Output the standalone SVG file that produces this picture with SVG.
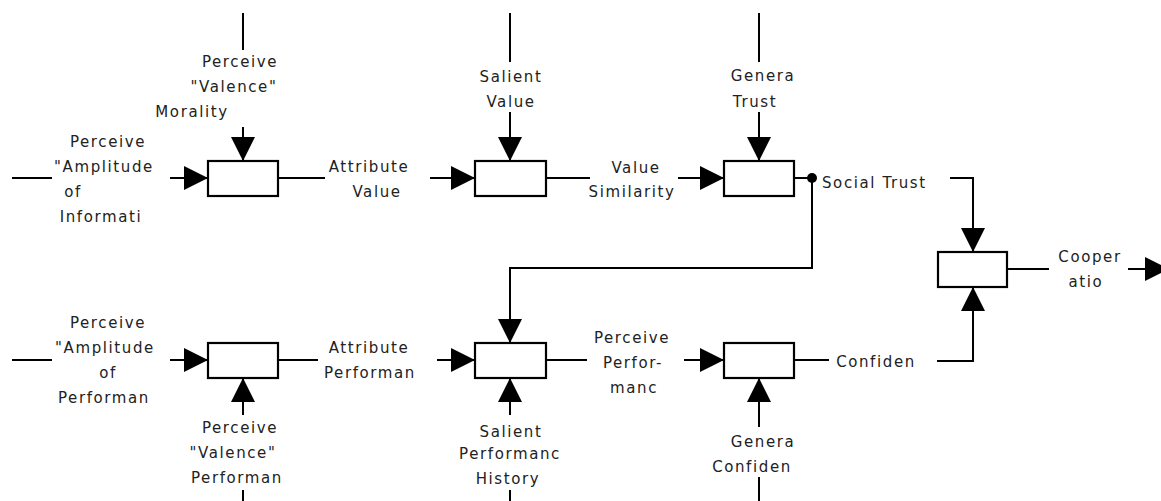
<svg xmlns="http://www.w3.org/2000/svg" width="1161" height="501" viewBox="0 0 1161 501">
<style>
.ln{fill:none;stroke:#000;stroke-width:2}
.ar{marker-end:url(#ah)}
.box{fill:#fff;stroke:#000;stroke-width:2.2}
text{font-family:"DejaVu Sans","Liberation Sans",sans-serif;font-size:15px;fill:#222;text-anchor:middle;letter-spacing:1.6px}
.st{text-anchor:start}
</style>
<defs>
<marker id="ah" markerUnits="userSpaceOnUse" markerWidth="24" markerHeight="24" refX="24" refY="12" orient="auto" viewBox="0 0 24 24">
<path d="M0,0 L24,12 L0,24 Z" fill="#000"/>
</marker>
</defs>
<rect width="1161" height="501" fill="#fff"/>
<g id="connectors">
<path class="ln" d="M12,178 H52"/><path class="ln ar" d="M170,178 H208"/>
<path class="ln" d="M243,13 V50"/><path class="ln ar" d="M243,127 V161"/>
<path class="ln" d="M278,178 H325"/><path class="ln ar" d="M430,178 H475"/>
<path class="ln" d="M510,13 V62"/><path class="ln ar" d="M510,112 V161"/>
<path class="ln" d="M546,178 H590"/><path class="ln ar" d="M678,178 H724"/>
<path class="ln" d="M759,13 V62"/><path class="ln ar" d="M759,112 V161"/>
<path class="ln" d="M794,178 H812"/>
<circle cx="812" cy="178" r="5" fill="#000"/>
<path class="ln ar" d="M812,178 V268 H510 V343"/>
<path class="ln ar" d="M950,178 H973 V252"/>
<path class="ln ar" d="M937,361 H973 V287"/>
<path class="ln" d="M1007,269 H1049"/><path class="ln ar" d="M1128,269 H1169"/>
<path class="ln" d="M12,360 H52"/><path class="ln ar" d="M170,360 H208"/>
<path class="ln" d="M243,501 V490"/><path class="ln ar" d="M243,415 V378"/>
<path class="ln" d="M278,360 H318"/><path class="ln ar" d="M437,360 H475"/>
<path class="ln" d="M510,501 V490"/><path class="ln ar" d="M510,415 V378"/>
<path class="ln" d="M546,360 H587"/><path class="ln ar" d="M684,360 H724"/>
<path class="ln" d="M759,501 V477"/><path class="ln ar" d="M759,427 V378"/>
<path class="ln" d="M794,360 H829"/>
</g>
<g id="labels">
<text x="108" y="147">Perceive</text>
<text x="104" y="172">"Amplitude</text>
<text x="73" y="197">of</text>
<text x="101" y="222">Informati</text>
<text x="240" y="67">Perceive</text>
<text x="234" y="92">"Valence"</text>
<text x="192" y="117">Morality</text>
<text x="369" y="172">Attribute</text>
<text x="377" y="197">Value</text>
<text x="511" y="82">Salient</text>
<text x="511" y="107">Value</text>
<text x="763" y="81">Genera</text>
<text x="755" y="107">Trust</text>
<text x="636" y="173">Value</text>
<text x="632" y="197">Similarity</text>
<text class="st" x="822" y="188">Social Trust</text>
<text x="1090" y="262">Cooper</text>
<text x="1086" y="287">atio</text>
<text x="876" y="367">Confiden</text>
<text x="108" y="328">Perceive</text>
<text x="105" y="353">"Amplitude</text>
<text x="108" y="378">of</text>
<text x="104" y="403">Performan</text>
<text x="240" y="433">Perceive</text>
<text x="233" y="458">"Valence"</text>
<text x="237" y="483">Performan</text>
<text x="369" y="353">Attribute</text>
<text x="370" y="378">Performan</text>
<text x="511" y="437">Salient</text>
<text x="510" y="459">Performanc</text>
<text x="508" y="484">History</text>
<text x="632" y="343">Perceive</text>
<text x="633" y="368">Perfor-</text>
<text x="634" y="393">manc</text>
<text x="763" y="447">Genera</text>
<text x="752" y="472">Confiden</text>
</g>
<g id="node1"><rect class="box" x="208" y="161" width="70" height="35"/></g>
<g id="node2"><rect class="box" x="475" y="161" width="71" height="35"/></g>
<g id="node3"><rect class="box" x="724" y="161" width="70" height="35"/></g>
<g id="node4"><rect class="box" x="208" y="343" width="70" height="35"/></g>
<g id="node5"><rect class="box" x="475" y="343" width="71" height="35"/></g>
<g id="node6"><rect class="box" x="724" y="343" width="70" height="35"/></g>
<g id="node7"><rect class="box" x="938" y="252" width="69" height="35"/></g>
</svg>
